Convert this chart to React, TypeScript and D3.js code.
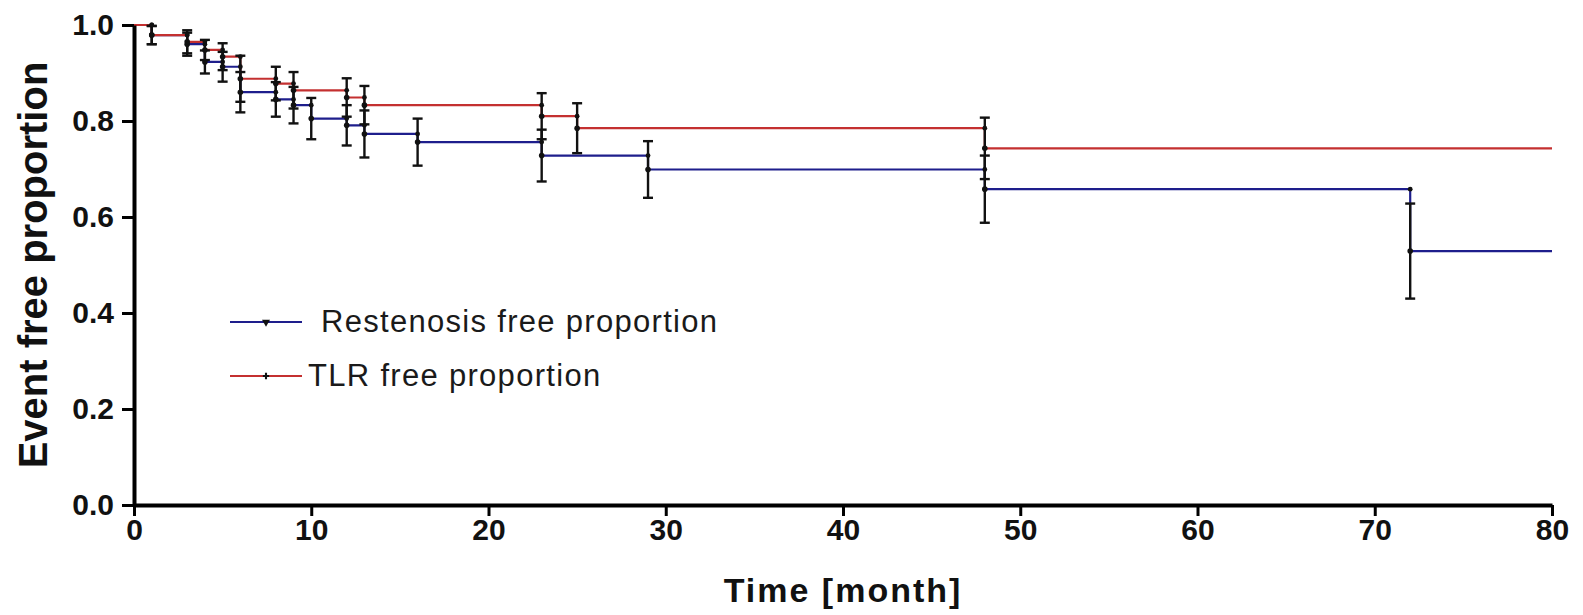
import React, { useEffect, useRef } from 'react'
import * as d3 from 'd3'

const width = 1583
const height = 615
const margin = { top: 25, right: 31, bottom: 112, left: 134 }

const xTicks = [0, 10, 20, 30, 40, 50, 60, 70, 80]
const yTicks = [0, 0.2, 0.4, 0.6, 0.8, 1.0]
const endTime = 80

// Restenosis free proportion (blue)
const restTimes = [0, 1, 3, 4, 5, 6, 8, 9, 10, 12, 13, 16, 23, 29, 48, 72]
const restSurv = [1, 0.979, 0.96, 0.923, 0.913, 0.86, 0.845, 0.833, 0.805, 0.791, 0.773, 0.756, 0.728, 0.699, 0.658, 0.529]
const restErr = [0, 0.019, 0.024, 0.024, 0.031, 0.042, 0.036, 0.038, 0.043, 0.042, 0.049, 0.049, 0.054, 0.059, 0.07, 0.099]

// TLR free proportion (red)
const tlrTimes = [0, 1, 3, 4, 5, 6, 8, 9, 12, 13, 23, 25, 48]
const tlrSurv = [1, 0.979, 0.965, 0.948, 0.934, 0.888, 0.878, 0.864, 0.849, 0.833, 0.81, 0.785, 0.743]
const tlrErr = [0, 0.019, 0.024, 0.021, 0.028, 0.048, 0.035, 0.038, 0.04, 0.04, 0.048, 0.052, 0.064]

const seriesNames = ['Restenosis free proportion', 'TLR free proportion']
const seriesColors = ['#1e1e8c', '#c43030']

const font = 'Arial, "Liberation Sans", sans-serif'

export default function App() {
  const ref = useRef<SVGSVGElement>(null)

  useEffect(() => {
    const svg = d3.select(ref.current)
    svg.selectAll('*').remove()

    const x = d3.scaleLinear().domain([0, 80]).range([margin.left, width - margin.right])
    const y = d3.scaleLinear().domain([0, 1]).range([height - margin.bottom + 2, margin.top])

    const series = [
      { t: restTimes, s: restSurv, e: restErr, color: seriesColors[0] },
      { t: tlrTimes, s: tlrSurv, e: tlrErr, color: seriesColors[1] }
    ]

    const line = d3.line<[number, number]>()
      .x(d => x(d[0]))
      .y(d => y(d[1]))
      .curve(d3.curveStepAfter)

    // step curves
    for (const sr of series) {
      const pts: [number, number][] = sr.t.map((t, i) => [t, sr.s[i]])
      pts.push([endTime, sr.s[sr.s.length - 1]])
      svg.append('path')
        .attr('d', line(pts))
        .attr('fill', 'none')
        .attr('stroke', sr.color)
        .attr('stroke-width', 2.2)
    }

    // error bars
    const cap = 5
    for (const sr of series) {
      const g = svg.append('g').attr('stroke', '#111').attr('stroke-width', 2.4)
      sr.t.forEach((t, i) => {
        if (i === 0) return
        const cx = x(t)
        const y0 = y(sr.s[i] + sr.e[i])
        const y1 = y(sr.s[i] - sr.e[i])
        g.append('line').attr('x1', cx).attr('x2', cx).attr('y1', y0).attr('y2', y1)
        g.append('line').attr('x1', cx - cap).attr('x2', cx + cap).attr('y1', y0).attr('y2', y0)
        g.append('line').attr('x1', cx - cap).attr('x2', cx + cap).attr('y1', y1).attr('y2', y1)
      })
    }

    // dots at corners
    for (const sr of series) {
      sr.t.forEach((t, i) => {
        if (i === 0) return
        svg.append('circle').attr('cx', x(t)).attr('cy', y(sr.s[i - 1])).attr('r', 2.4).attr('fill', '#111')
        svg.append('circle').attr('cx', x(t)).attr('cy', y(sr.s[i])).attr('r', 2.8).attr('fill', '#111')
      })
    }

    // axes
    const yAxis = d3.axisLeft(y)
      .tickValues(yTicks)
      .tickFormat(d3.format('.1f'))
      .tickSize(12)
      .tickSizeOuter(0)
      .tickPadding(8)
    const xAxis = d3.axisBottom(x)
      .tickValues(xTicks)
      .tickFormat(d3.format('d'))
      .tickSize(11)
      .tickSizeOuter(0)
      .tickPadding(3)

    const styleAxis = (g: any) => {
      g.attr('font-family', font).attr('font-size', 30).attr('font-weight', 'bold')
      g.select('.domain').attr('stroke', '#000').attr('stroke-width', 4)
      g.selectAll('.tick line').attr('stroke', '#000').attr('stroke-width', 3)
      g.selectAll('.tick text').attr('fill', '#111')
    }

    svg.append('g')
      .attr('transform', `translate(0,${y(0)})`)
      .call(xAxis)
      .call(styleAxis)
    svg.append('g')
      .attr('transform', `translate(${margin.left},0)`)
      .call(yAxis)
      .call(styleAxis)

    // titles
    svg.append('text')
      .attr('transform', `translate(47,${(y(0) + y(1)) / 2}) rotate(-90)`)
      .attr('text-anchor', 'middle')
      .attr('font-family', font)
      .attr('font-size', 40)
      .attr('font-weight', 'bold')
      .attr('fill', '#111')
      .text('Event free proportion')
    svg.append('text')
      .attr('x', (x(0) + x(80)) / 2)
      .attr('y', 602)
      .attr('text-anchor', 'middle')
      .attr('font-family', font)
      .attr('font-size', 34)
      .attr('font-weight', 'bold')
      .attr('letter-spacing', 2)
      .attr('fill', '#111')
      .text('Time [month]')

    // legend
    const legend = svg.append('g').attr('transform', 'translate(230,322)')
    const symbols = [d3.symbolTriangle, d3.symbolCross]
    seriesNames.forEach((name, i) => {
      const row = legend.append('g').attr('transform', `translate(0,${i * 54})`)
      row.append('line')
        .attr('x1', 0).attr('x2', 72).attr('y1', 0).attr('y2', 0)
        .attr('stroke', seriesColors[i]).attr('stroke-width', 2)
      row.append('path')
        .attr('d', d3.symbol(symbols[i], i === 0 ? 28 : 22)())
        .attr('transform', `translate(36,0) rotate(${i === 0 ? 180 : 0})`)
        .attr('fill', '#111')
      row.append('text')
        .attr('x', i === 0 ? 91 : 78)
        .attr('y', 10)
        .attr('font-family', font)
        .attr('font-size', 31)
        .attr('letter-spacing', 1.3)
        .attr('fill', '#1a1a1a')
        .text(name)
    })
  }, [])

  return (
    <svg
      ref={ref}
      width={width}
      height={height}
      viewBox={`0 0 ${width} ${height}`}
      style={{ position: 'absolute', left: 0, top: 0, background: '#fff' }}
    />
  )
}
